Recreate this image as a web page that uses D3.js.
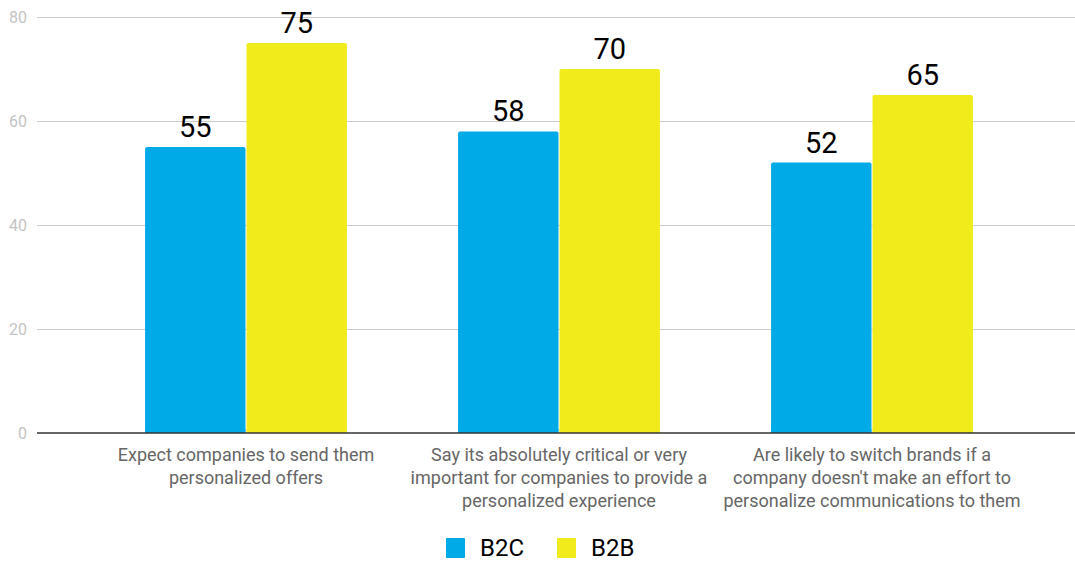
<!DOCTYPE html>
<html>
<head>
<meta charset="utf-8">
<script src="https://cdn.jsdelivr.net/npm/d3@7"></script>
<style>
  body { margin: 0; background: #fff; }
  svg { display: block; font-family: Roboto, "Noto Sans", sans-serif; }
</style>
</head>
<body>
<div id="chart"></div>
<script>
// Data
const categories = [
  "Expect companies to send them personalized offers",
  "Say its absolutely critical or very important for companies to provide a personalized experience",
  "Are likely to switch brands if a company doesn't make an effort to personalize communications to them"
];
const categoryLines = [
  ["Expect companies to send them", "personalized offers"],
  ["Say its absolutely critical or very", "important for companies to provide a", "personalized experience"],
  ["Are likely to switch brands if a", "company doesn't make an effort to", "personalize communications to them"]
];
const seriesNames = ["B2C", "B2B"];
const b2cValues = [55, 58, 52];
const b2bValues = [75, 70, 65];
const yTicks = [0, 20, 40, 60, 80];

const width = 1075;
const height = 561;
const plot = { left: 37, right: 1075, top: 17, bottom: 433 };

const svg = d3
  .select("#chart")
  .append("svg")
  .attr("width", width)
  .attr("height", height);

const color = d3.scaleOrdinal().domain(seriesNames).range(["#00aae7", "#f2eb1c"]);

// Scales
const y = d3.scaleLinear().domain([0, 80]).range([plot.bottom, plot.top]);

const x0 = d3
  .scaleBand()
  .domain(categories)
  .range([89.5, 1028.5])
  .paddingInner(0.355)
  .paddingOuter(0.1775);

const x1 = d3
  .scaleBand()
  .domain(seriesNames)
  .range([0, x0.bandwidth()])
  .paddingInner(0.01);

// Gridlines
svg
  .append("g")
  .selectAll("line")
  .data(yTicks.filter((d) => d !== 0))
  .enter()
  .append("line")
  .attr("x1", plot.left)
  .attr("x2", plot.right)
  .attr("y1", (d) => y(d) + 0.5)
  .attr("y2", (d) => y(d) + 0.5)
  .attr("stroke", "#cccccc")
  .attr("stroke-width", 1);

// Y tick labels
svg
  .append("g")
  .selectAll("text")
  .data(yTicks)
  .enter()
  .append("text")
  .attr("x", 27)
  .attr("y", (d) => y(d))
  .attr("dy", "0.35em")
  .attr("text-anchor", "end")
  .attr("font-size", "16px")
  .attr("fill", "#c4c4c4")
  .text((d) => d);

// Bars
const rows = categories.map((c, i) => ({ cat: c, B2C: b2cValues[i], B2B: b2bValues[i] }));

const groups = svg
  .append("g")
  .selectAll("g")
  .data(rows)
  .enter()
  .append("g")
  .attr("transform", (d) => `translate(${x0(d.cat)},0)`);

const bars = groups
  .selectAll("g")
  .data((d) => seriesNames.map((k) => ({ key: k, value: d[k] })))
  .enter()
  .append("g");

bars
  .append("rect")
  .attr("x", (d) => x1(d.key))
  .attr("y", (d) => y(d.value))
  .attr("width", x1.bandwidth())
  .attr("height", (d) => y(0) - y(d.value))
  .attr("rx", 2)
  .attr("fill", (d) => color(d.key));

// cover bottom rounded corners
bars
  .append("rect")
  .attr("x", (d) => x1(d.key))
  .attr("y", (d) => y(0) - 4)
  .attr("width", x1.bandwidth())
  .attr("height", 4)
  .attr("fill", (d) => color(d.key));

// Value labels
bars
  .append("text")
  .attr("x", (d) => x1(d.key) + x1.bandwidth() / 2)
  .attr("y", (d) => y(d.value) - 10)
  .attr("text-anchor", "middle")
  .attr("font-size", "29px")
  .attr("fill", "#000")
  .text((d) => d.value);

// Baseline
svg
  .append("line")
  .attr("x1", plot.left)
  .attr("x2", plot.right)
  .attr("y1", y(0))
  .attr("y2", y(0))
  .attr("stroke", "#333333")
  .attr("stroke-width", 1.5);

// X labels
const xl = svg
  .append("g")
  .selectAll("text")
  .data(categories)
  .enter()
  .append("text")
  .attr("x", (d) => x0(d) + x0.bandwidth() / 2)
  .attr("y", 461)
  .attr("text-anchor", "middle")
  .attr("font-size", "18px")
  .attr("fill", "#666666");

xl.selectAll("tspan")
  .data((d, i) => categoryLines[i])
  .enter()
  .append("tspan")
  .attr("x", function () { return d3.select(this.parentNode).attr("x"); })
  .attr("dy", (d, i) => (i === 0 ? 0 : 23))
  .text((d) => d);

// Legend
const legendItems = [
  { key: "B2C", x: 446 },
  { key: "B2B", x: 557 }
];
const legend = svg
  .append("g")
  .selectAll("g")
  .data(legendItems)
  .enter()
  .append("g")
  .attr("transform", (d) => `translate(${d.x},538)`);

legend
  .append("rect")
  .attr("width", 19)
  .attr("height", 20)
  .attr("rx", 1)
  .attr("fill", (d) => color(d.key));

legend
  .append("text")
  .attr("x", 34)
  .attr("y", 18)
  .attr("font-size", "24px")
  .attr("fill", "#000")
  .text((d) => d.key);
</script>
</body>
</html>
